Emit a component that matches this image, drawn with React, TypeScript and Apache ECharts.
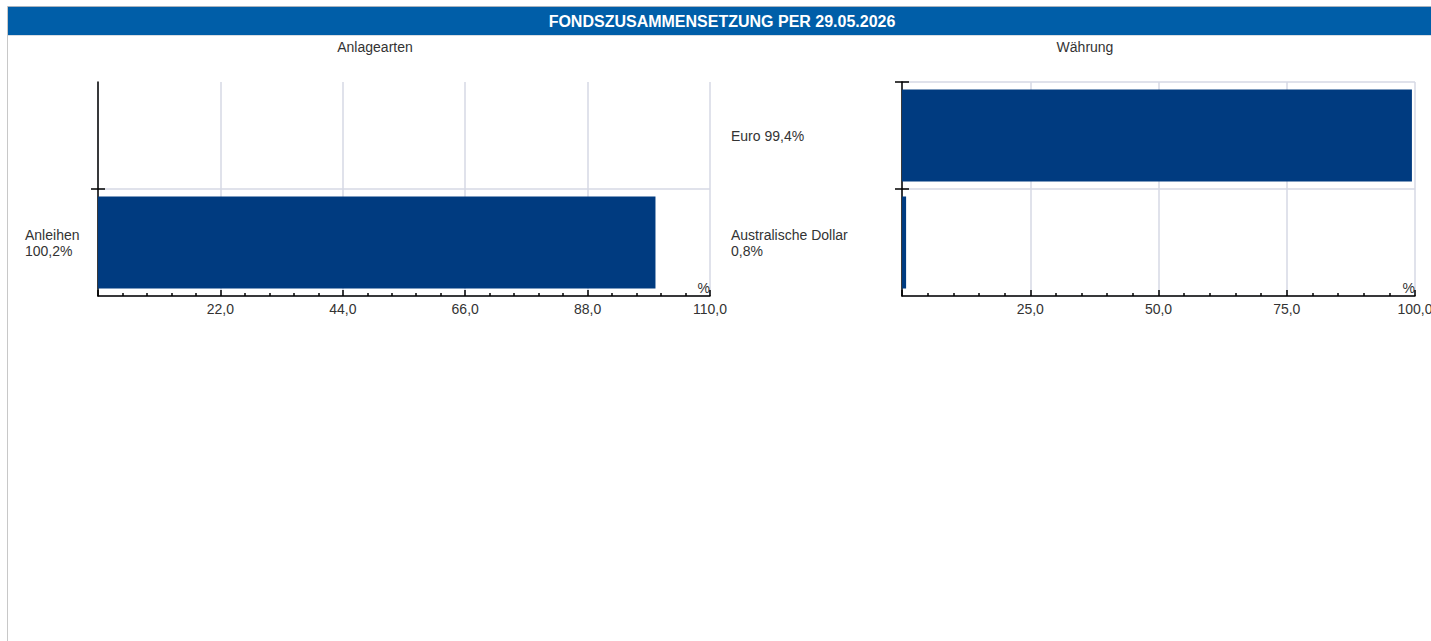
import React, { useEffect, useRef } from 'react';
import * as echarts from 'echarts';

// ---------- data ----------
const pageTitle = 'FONDSZUSAMMENSETZUNG PER 29.05.2026';

const assetTitle = 'Anlagearten';
const assetCategories = ['Anleihen', ''];
const assetValues: (number | null)[] = [100.2, null];
const assetAxisMax = 110;
const assetAxisInterval = 22;

const currencyTitle = 'Währung';
const currencyCategories = ['Australische Dollar', 'Euro'];
const currencyValues = [0.8, 99.4];
const currencyAxisMax = 100;
const currencyAxisInterval = 25;

const unitLabel = '%';

// ---------- styles ----------
const FONT = "Arial, 'Liberation Sans', sans-serif";
const BAR = '#003b80';
const GRID = '#d6d9e4';
const AXIS = '#000000';
const TEXT = '#333333';
const FS = 14;

const fmt = (v: number) => v.toFixed(1).replace('.', ',');

function makeXAxis(gridIndex: number, max: number, interval: number) {
  return {
    type: 'value',
    gridIndex,
    min: 0,
    max,
    interval,
    name: unitLabel,
    nameLocation: 'end',
    nameGap: 0,
    nameTextStyle: {
      align: 'right',
      verticalAlign: 'bottom',
      fontSize: FS,
      fontFamily: FONT,
      color: TEXT,
      padding: [0, 0, 1, 0],
    },
    axisLine: { show: true, lineStyle: { color: AXIS, width: 1.5 } },
    axisTick: { show: true, inside: true, length: 6, lineStyle: { color: AXIS, width: 1.5 } },
    minorTick: { show: true, splitNumber: 5, length: 3, lineStyle: { color: AXIS, width: 1.5 } },
    splitLine: { show: true, lineStyle: { color: GRID, width: 1.5 } },
    axisLabel: {
      showMinLabel: false,
      margin: 6,
      fontSize: FS,
      fontFamily: FONT,
      color: TEXT,
      formatter: (v: number) => fmt(v),
    },
  };
}

function makeYAxis(
  gridIndex: number,
  cats: string[],
  vals: (number | null)[],
  margin: number,
  width: number,
  showMaxLine: boolean
) {
  return {
    type: 'category',
    gridIndex,
    data: cats,
    axisLine: { show: true, lineStyle: { color: AXIS, width: 1.5 } },
    axisTick: { show: false },
    splitLine: { show: true, showMaxLine, lineStyle: { color: GRID, width: 1.5 } },
    axisLabel: {
      align: 'left',
      margin,
      width,
      overflow: 'break',
      lineHeight: 16,
      fontSize: FS,
      fontFamily: FONT,
      color: TEXT,
      formatter: (value: string, index: number) => {
        const v = vals[index];
        if (!value || v == null) return '';
        return `${value} ${fmt(v)}%`;
      },
    },
  };
}

export default function App() {
  const ref = useRef<HTMLDivElement>(null);

  useEffect(() => {
    const el = ref.current;
    if (!el) return;
    const chart = echarts.init(el, null, { renderer: 'svg' });

    const subTitleStyle = { fontSize: FS, fontWeight: 'normal', color: TEXT, fontFamily: FONT };

    const option: any = {
      animation: false,
      textStyle: { fontFamily: FONT },
      title: [
        { text: assetTitle, left: 375, top: 40, textAlign: 'center', padding: 0, textStyle: subTitleStyle },
        { text: currencyTitle, left: 1085, top: 40, textAlign: 'center', padding: 0, textStyle: subTitleStyle },
      ],
      grid: [
        { left: 98, top: 82, width: 612, height: 214, containLabel: false, outerBoundsMode: 'none' },
        { left: 902, top: 82, width: 513, height: 214, containLabel: false, outerBoundsMode: 'none' },
      ],
      xAxis: [
        makeXAxis(0, assetAxisMax, assetAxisInterval),
        makeXAxis(1, currencyAxisMax, currencyAxisInterval),
      ],
      yAxis: [
        makeYAxis(0, assetCategories, assetValues, 73, 66, false),
        makeYAxis(1, currencyCategories, currencyValues, 171, 124, true),
      ],
      series: [
        {
          type: 'bar',
          xAxisIndex: 0,
          yAxisIndex: 0,
          data: assetValues,
          barCategoryGap: '14%',
          itemStyle: { color: BAR },
        },
        {
          type: 'bar',
          xAxisIndex: 1,
          yAxisIndex: 1,
          data: currencyValues,
          barCategoryGap: '14%',
          itemStyle: { color: BAR },
        },
      ],
      graphic: {
        elements: [
          {
            id: 'topline',
            type: 'line',
            shape: { x1: 7, y1: 6.5, x2: 1431, y2: 6.5 },
            style: { stroke: '#a8b3bf', lineWidth: 1 },
            silent: true,
          },
          {
            id: 'leftborder',
            type: 'line',
            shape: { x1: 7.5, y1: 6, x2: 7.5, y2: 641 },
            style: { stroke: '#c8c8c8', lineWidth: 1 },
            silent: true,
          },
          {
            id: 'titlebar',
            type: 'rect',
            shape: { x: 8, y: 7, width: 1423, height: 28 },
            style: { fill: '#005ea8' },
            silent: true,
          },
          {
            id: 'titleunder',
            type: 'line',
            shape: { x1: 8, y1: 35.5, x2: 1431, y2: 35.5 },
            style: { stroke: '#d8dde3', lineWidth: 1 },
            silent: true,
          },
          {
            id: 'titletext',
            type: 'text',
            x: 722,
            y: 21,
            style: {
              text: pageTitle,
              fill: '#ffffff',
              font: `bold 16px ${FONT}`,
              textAlign: 'center',
              textVerticalAlign: 'middle',
            },
            silent: true,
          },
        ],
      },
    };

    chart.setOption(option);

    // crossing ticks on the category axes at band boundaries
    const tickEls: any[] = [];
    const addTicks = (axisIdx: number, withTop: boolean) => {
      const x = chart.convertToPixel({ xAxisIndex: axisIdx }, 0) as unknown as number;
      const y0 = chart.convertToPixel({ yAxisIndex: axisIdx }, 0) as unknown as number;
      const y1 = chart.convertToPixel({ yAxisIndex: axisIdx }, 1) as unknown as number;
      const band = y0 - y1;
      const ys = [(y0 + y1) / 2];
      if (withTop) ys.push(y1 - band / 2);
      ys.forEach((y, i) => {
        tickEls.push({
          id: `tick-${axisIdx}-${i}`,
          type: 'line',
          shape: { x1: x - 7, y1: y, x2: x + 7, y2: y },
          style: { stroke: AXIS, lineWidth: 1.5 },
          silent: true,
          z: 10,
        });
      });
    };
    addTicks(0, false);
    addTicks(1, true);
    chart.setOption({ graphic: { elements: tickEls } });

    return () => chart.dispose();
  }, []);

  return (
    <div
      ref={ref}
      style={{ position: 'absolute', left: 0, top: 0, width: 1431, height: 641, background: '#ffffff' }}
    />
  );
}
